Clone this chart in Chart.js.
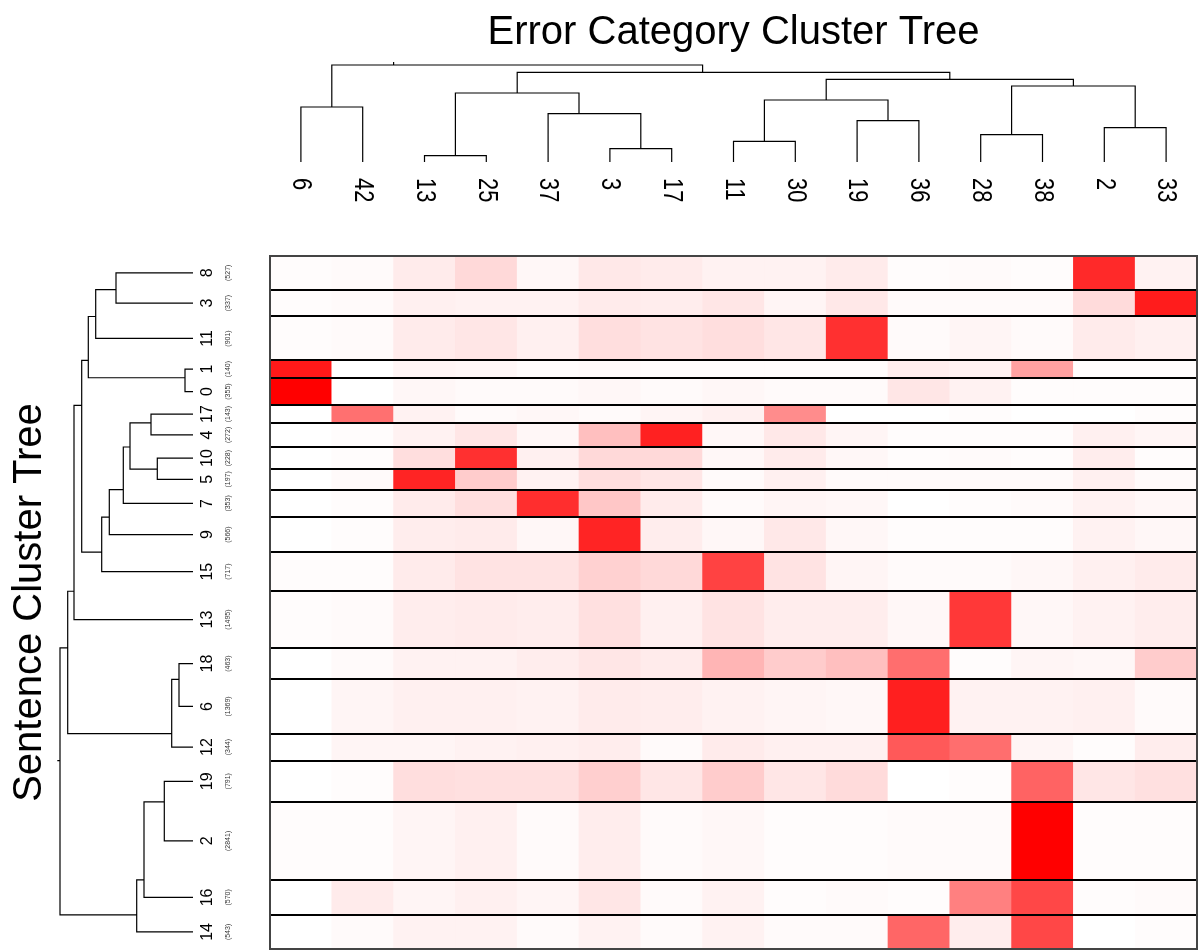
<!DOCTYPE html>
<html>
<head>
<meta charset="utf-8">
<title>Error category heatmap</title>
<script src="https://cdn.jsdelivr.net/npm/chart.js"></script>
<style>
  body { margin: 0; background: #fff; }
  #wrap { position: relative; width: 1200px; height: 951px; }
  canvas { position: absolute; }
  #tree-top { left: 270px; top: 0; }
  #tree-left { left: 0; top: 256px; }
  #heat { left: 268px; top: 254px; }
</style>
</head>
<body>
<div id="wrap">
  <canvas id="tree-top" width="927" height="256"></canvas>
  <canvas id="tree-left" width="270" height="693"></canvas>
  <canvas id="heat" width="931" height="697"></canvas>
</div>
<script>
// error categories (columns) and sentence clusters (rows), in dendrogram order
const colLabels = ['6', '42', '13', '25', '37', '3', '17', '11', '30', '19', '36', '28', '38', '2', '33'];
const rowLabels = ['8', '3', '11', '1', '0', '17', '4', '10', '5', '7', '9', '15', '13', '18', '6', '12', '19', '2', '16', '14'];
const rowSizes = [527, 337, 901, 140, 355, 143, 272, 228, 197, 353, 566, 717, 1495, 463, 1369, 344, 791, 2841, 570, 543];

// relative weight of each error category inside a sentence cluster (0..1)
const heat = [
  [0.01, 0.02, 0.08, 0.15, 0.03, 0.09, 0.08, 0.05, 0.05, 0.08, 0.01, 0.02, 0.01, 0.84, 0.05],
  [0.01, 0.02, 0.06, 0.05, 0.05, 0.08, 0.07, 0.10, 0.04, 0.09, 0.02, 0.02, 0.02, 0.14, 0.89],
  [0.01, 0.02, 0.08, 0.10, 0.06, 0.13, 0.11, 0.13, 0.10, 0.81, 0.02, 0.04, 0.02, 0.08, 0.06],
  [0.90, 0.00, 0.04, 0.03, 0.01, 0.02, 0.01, 0.01, 0.01, 0.01, 0.07, 0.05, 0.37, 0.01, 0.01],
  [1.00, 0.00, 0.03, 0.02, 0.02, 0.03, 0.02, 0.03, 0.02, 0.02, 0.10, 0.05, 0.01, 0.01, 0.01],
  [0.00, 0.56, 0.05, 0.02, 0.03, 0.02, 0.04, 0.06, 0.45, 0.00, 0.00, 0.01, 0.00, 0.00, 0.01],
  [0.00, 0.01, 0.05, 0.10, 0.03, 0.25, 0.87, 0.03, 0.09, 0.04, 0.01, 0.01, 0.01, 0.06, 0.04],
  [0.00, 0.01, 0.13, 0.81, 0.06, 0.15, 0.15, 0.03, 0.08, 0.03, 0.01, 0.02, 0.01, 0.07, 0.01],
  [0.00, 0.02, 0.86, 0.20, 0.05, 0.13, 0.10, 0.02, 0.06, 0.02, 0.02, 0.02, 0.02, 0.06, 0.02],
  [0.00, 0.01, 0.08, 0.13, 0.82, 0.22, 0.08, 0.02, 0.04, 0.03, 0.00, 0.01, 0.02, 0.05, 0.03],
  [0.00, 0.01, 0.07, 0.08, 0.03, 0.86, 0.07, 0.03, 0.09, 0.03, 0.01, 0.01, 0.01, 0.05, 0.03],
  [0.01, 0.01, 0.08, 0.11, 0.11, 0.18, 0.15, 0.74, 0.11, 0.04, 0.02, 0.02, 0.03, 0.06, 0.08],
  [0.01, 0.02, 0.07, 0.08, 0.07, 0.12, 0.06, 0.11, 0.07, 0.07, 0.03, 0.78, 0.03, 0.05, 0.07],
  [0.00, 0.02, 0.05, 0.05, 0.07, 0.10, 0.08, 0.29, 0.20, 0.25, 0.57, 0.01, 0.04, 0.03, 0.20],
  [0.00, 0.04, 0.06, 0.06, 0.05, 0.08, 0.07, 0.05, 0.04, 0.03, 0.88, 0.05, 0.05, 0.06, 0.02],
  [0.00, 0.04, 0.04, 0.05, 0.06, 0.07, 0.02, 0.08, 0.06, 0.06, 0.65, 0.57, 0.04, 0.01, 0.07],
  [0.00, 0.01, 0.13, 0.12, 0.12, 0.19, 0.10, 0.20, 0.10, 0.14, 0.00, 0.01, 0.61, 0.10, 0.12],
  [0.01, 0.01, 0.04, 0.06, 0.02, 0.07, 0.02, 0.03, 0.01, 0.01, 0.02, 0.02, 1.00, 0.01, 0.01],
  [0.00, 0.08, 0.04, 0.06, 0.04, 0.10, 0.02, 0.05, 0.01, 0.02, 0.01, 0.50, 0.72, 0.01, 0.02],
  [0.00, 0.02, 0.05, 0.05, 0.02, 0.05, 0.02, 0.05, 0.02, 0.02, 0.60, 0.07, 0.72, 0.00, 0.01]
];

// merges: [left, right, height]; strings are leaves, numbers refer to earlier merges
const colMerges = [
  ['6', '42', 55], ['13', '25', 6.3], ['3', '17', 13.3], ['37', 2, 48.3], [1, 3, 69],
  ['11', '30', 20.7], ['19', '36', 41.3], [5, 6, 62], ['28', '38', 27.3], ['2', '33', 34.3],
  [8, 9, 76], [7, 10, 82.7], [4, 11, 89.7], [0, 12, 97]
];
const rowMerges = [
  ['8', '3', 77], [0, '11', 97.3], ['1', '0', 8], [1, 2, 104.7], ['17', '4', 42],
  ['10', '5', 35.7], [4, 5, 63], [6, '7', 69.7], [7, '9', 83.7], [8, '15', 91.3],
  [3, 9, 111.3], [10, '13', 119], ['18', '6', 14], [12, '12', 21.3], [11, 13, 125.3],
  ['19', '2', 28.7], [15, '16', 49], [16, '14', 56.3], [14, 17, 133]
];
const colRootStub = 3;
const rowRootStub = 2.7;

const FONT = '"Liberation Sans", Arial, Helvetica, sans-serif';
Chart.defaults.font.family = FONT;
Chart.defaults.color = '#000';
Chart.defaults.animation = false;

// row heights grow with the square root of the cluster size
const rowWeights = rowSizes.map(n => Math.sqrt(n));
const rowEdges = [0];
rowWeights.forEach((w, i) => rowEdges.push(rowEdges[i] + w));
const rowTotal = rowEdges[rowEdges.length - 1];
const rowCenter = k => (rowEdges[k] + rowEdges[k + 1]) / 2;

function shade(v) {
  const g = Math.round(255 * (1 - v));
  return `rgb(255,${g},${g})`;
}

// rectangle dendrogram; a node hangs at the border between its two children
function treePath(merges, labels, center, border, stub) {
  const nodes = [];
  const pts = [];
  const leaf = name => {
    const k = labels.indexOf(name);
    return { pos: center(k), h: 0, last: k };
  };
  for (const [a, b, h] of merges) {
    const l = typeof a === 'number' ? nodes[a] : leaf(a);
    const r = typeof b === 'number' ? nodes[b] : leaf(b);
    pts.push([l.pos, l.h], [l.pos, h], [r.pos, h], [r.pos, r.h], null);
    nodes.push({ pos: border(l.last), h, last: r.last });
  }
  const root = nodes[nodes.length - 1];
  pts.push([root.pos, root.h], [root.pos, root.h + stub]);
  return pts;
}

const colPath = treePath(colMerges, colLabels, k => k, k => k + 0.5, colRootStub)
  .map(p => p ? { x: p[0], y: p[1] } : { x: null, y: null });
const rowPath = treePath(rowMerges, rowLabels, rowCenter, k => rowEdges[k + 1], rowRootStub)
  .map(p => p ? { x: p[1], y: p[0] } : { x: null, y: null });

const treeLine = data => ({
  data,
  showLine: true,
  borderColor: '#000',
  borderWidth: 1.2,
  pointRadius: 0,
  spanGaps: false,
  clip: false
});

const noLegend = { legend: { display: false }, tooltip: { enabled: false } };

const colLabelPlugin = {
  id: 'colLabels',
  afterDraw(chart) {
    const { ctx, chartArea, scales: { x } } = chart;
    ctx.save();
    ctx.fillStyle = '#000';
    ctx.font = '28px ' + FONT;
    ctx.textAlign = 'left';
    ctx.textBaseline = 'middle';
    colLabels.forEach((lab, i) => {
      ctx.save();
      ctx.translate(x.getPixelForValue(i), chartArea.bottom + 16);
      ctx.rotate(Math.PI / 2);
      ctx.scale(0.78, 1);
      ctx.fillText(lab, 0, 0);
      ctx.restore();
    });
    ctx.restore();
  }
};

const rowLabelPlugin = {
  id: 'rowLabels',
  afterDraw(chart) {
    const { ctx, chartArea, scales: { y } } = chart;
    const put = (text, px, py, font, color) => {
      ctx.save();
      ctx.translate(px, py);
      ctx.rotate(-Math.PI / 2);
      ctx.font = font;
      ctx.fillStyle = color;
      ctx.textAlign = 'center';
      ctx.textBaseline = 'alphabetic';
      ctx.fillText(text, 0, 0);
      ctx.restore();
    };
    rowLabels.forEach((lab, r) => {
      const py = y.getPixelForValue(rowCenter(r));
      put(lab, chartArea.right + 19, py, '16px ' + FONT, '#000');
      put('(' + rowSizes[r] + ')', chartArea.right + 37, py, '7px ' + FONT, '#333');
    });
  }
};

const framePlugin = {
  id: 'frame',
  afterDraw(chart) {
    const { ctx, chartArea: a } = chart;
    ctx.save();
    ctx.strokeStyle = '#444';
    ctx.lineWidth = 2;
    ctx.strokeRect(a.left, a.top, a.right - a.left, a.bottom - a.top);
    ctx.restore();
  }
};

// column dendrogram with the main title
new Chart(document.getElementById('tree-top'), {
  type: 'scatter',
  data: { datasets: [treeLine(colPath)] },
  options: {
    responsive: false,
    layout: { padding: { bottom: 94 } },
    scales: {
      x: { type: 'linear', min: -0.5, max: colLabels.length - 0.5, display: false },
      y: { type: 'linear', min: 0, max: 100, display: false }
    },
    plugins: {
      ...noLegend,
      title: {
        display: true,
        text: 'Error Category Cluster Tree',
        font: { size: 40, weight: 'normal', lineHeight: 1.2 },
        padding: { top: 9, bottom: 5 }
      }
    }
  },
  plugins: [colLabelPlugin]
});

// row dendrogram with cluster ids and sizes
new Chart(document.getElementById('tree-left'), {
  type: 'scatter',
  data: { datasets: [treeLine(rowPath)] },
  options: {
    responsive: false,
    layout: { padding: { right: 77 } },
    scales: {
      x: { type: 'linear', reverse: true, min: 0, max: 136, display: false },
      y: { type: 'linear', reverse: true, min: 0, max: rowTotal, display: false }
    },
    plugins: {
      ...noLegend,
      title: {
        display: true,
        position: 'left',
        text: 'Sentence Cluster Tree',
        font: { size: 40, weight: 'normal', lineHeight: 1 },
        padding: { top: 10, bottom: 7 }
      }
    }
  },
  plugins: [rowLabelPlugin]
});

// heatmap: one stacked dataset per sentence cluster, row borders from the y grid
new Chart(document.getElementById('heat'), {
  type: 'bar',
  data: {
    labels: colLabels,
    datasets: rowLabels.map((lab, r) => ({
      label: lab,
      data: colLabels.map(() => rowWeights[r]),
      backgroundColor: heat[r].map(shade),
      borderWidth: 0,
      barPercentage: 1,
      categoryPercentage: 1
    }))
  },
  options: {
    responsive: false,
    layout: { padding: 2 },
    scales: {
      x: { stacked: true, display: false },
      y: {
        stacked: true,
        reverse: true,
        min: 0,
        max: rowTotal,
        afterBuildTicks: s => { s.ticks = rowEdges.map(v => ({ value: v })); },
        ticks: { display: false },
        grid: { color: '#000', lineWidth: 2, drawTicks: false, z: 1 },
        border: { display: false }
      }
    },
    plugins: noLegend
  },
  plugins: [framePlugin]
});
</script>
</body>
</html>
